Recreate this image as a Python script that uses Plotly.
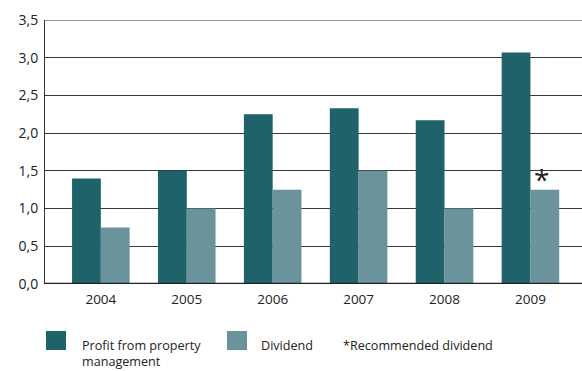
import plotly.graph_objects as go

years = ["2004", "2005", "2006", "2007", "2008", "2009"]
profit = [1.40, 1.50, 2.25, 2.33, 2.17, 3.07]
dividend = [0.75, 1.00, 1.25, 1.50, 1.00, 1.25]
y_ticks = [0.0, 0.5, 1.0, 1.5, 2.0, 2.5, 3.0, 3.5]

dark = "#1f626a"
light = "#6b939c"
font = "Open Sans, Noto Sans, sans-serif"

fig = go.Figure()
fig.add_trace(go.Bar(x=list(range(len(years))), y=profit, name="Profit from property management",
                     marker=dict(color=dark, line=dict(width=0))))
fig.add_trace(go.Bar(x=list(range(len(years))), y=dividend, name="Dividend",
                     marker=dict(color=light, line=dict(width=0))))

fig.update_layout(
    width=582, height=371,
    margin=dict(l=45, r=0, t=20, b=87),
    paper_bgcolor="white", plot_bgcolor="white",
    barmode="group", bargap=0.33, bargroupgap=0,
    showlegend=False,
    separators=",.",
    font=dict(family=font, size=13, color="#222"),
    xaxis=dict(range=[-0.65, 5.6], tickmode="array", tickvals=list(range(len(years))),
               ticktext=years, showgrid=False, zeroline=False, showline=False,
               ticks="", ticklabelstandoff=5, tickfont=dict(size=13.5, color="#222")),
    yaxis=dict(range=[0, 3.5], tickmode="array", tickvals=y_ticks, tickformat=".1f",
               showgrid=True, gridcolor="#3a3a3a", gridwidth=1, zeroline=False,
               showline=True, linecolor="#333", linewidth=1, ticks="", ticklabelstandoff=3,
               tickfont=dict(size=14, color="#222")),
)

# top border and bottom axis
fig.add_shape(type="line", xref="paper", yref="y", x0=0, x1=1, y0=3.5, y1=3.5,
              line=dict(color="#333", width=1))
fig.add_shape(type="line", xref="paper", yref="y", x0=0, x1=1, y0=0, y1=0,
              line=dict(color="#222", width=2.5))

# asterisk on 2009 dividend
fig.add_annotation(x=5 + 0.13, y=dividend[5], text="*", showarrow=False, yanchor="bottom",
                   yshift=-10, font=dict(size=28, color="#222"), xref="x", yref="y")

# custom legend
def px_x(v):
    return (v - 45) / 537

def px_y(v):
    return -(v - 284) / 264

fig.add_shape(type="rect", xref="paper", yref="paper",
              x0=px_x(46), x1=px_x(66), y0=px_y(331), y1=px_y(350),
              fillcolor=dark, line=dict(width=0))
fig.add_shape(type="rect", xref="paper", yref="paper",
              x0=px_x(227), x1=px_x(247), y0=px_y(331), y1=px_y(350),
              fillcolor=light, line=dict(width=0))
fig.add_annotation(xref="paper", yref="paper", x=px_x(80), y=px_y(335),
                   text="Profit from property<br>management", showarrow=False, align="left",
                   xanchor="left", yanchor="top", font=dict(size=12.6, color="#222"))
fig.add_annotation(xref="paper", yref="paper", x=px_x(259), y=px_y(335),
                   text="Dividend", showarrow=False, align="left",
                   xanchor="left", yanchor="top", font=dict(size=12.6, color="#222"))
fig.add_annotation(xref="paper", yref="paper", x=px_x(341), y=px_y(335),
                   text="*Recommended dividend", showarrow=False, align="left",
                   xanchor="left", yanchor="top", font=dict(size=12.6, color="#222"))

fig.write_html("out.html")
